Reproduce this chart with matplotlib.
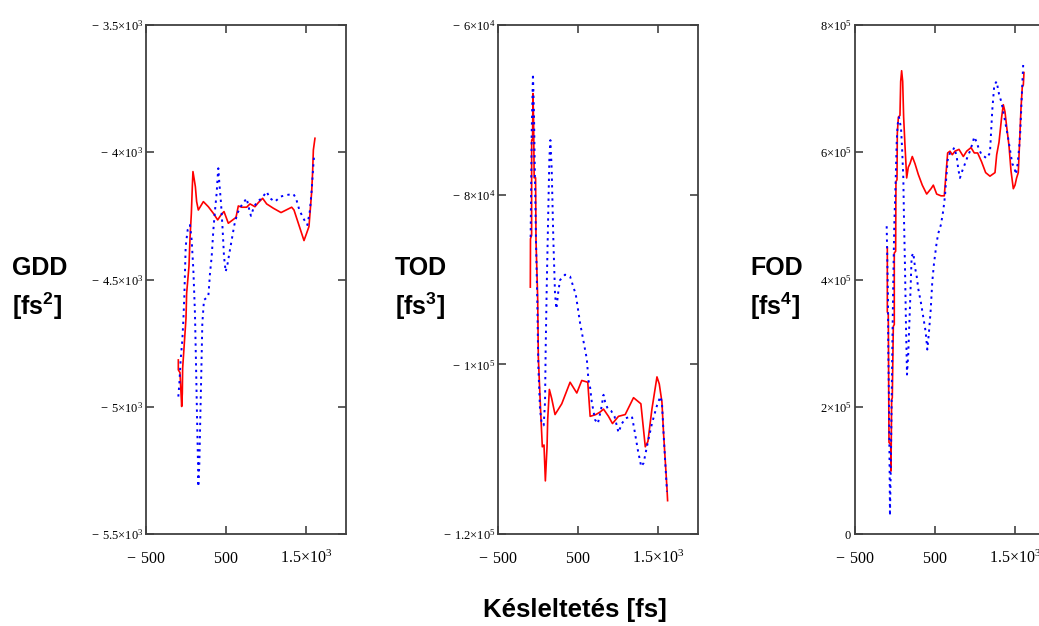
import matplotlib
matplotlib.use('Agg')
import matplotlib.pyplot as plt
from matplotlib.ticker import FixedLocator, FixedFormatter

plt.rcParams['mathtext.fontset'] = 'custom'
plt.rcParams['mathtext.rm'] = 'Liberation Serif'
plt.rcParams['mathtext.bf'] = 'Liberation Sans:bold'

# ---- data (delay in fs) ----
gdd_red_t = [-96, -96, -75, -62, -54, -46, -42, -21, 0, 8, 37, 50, 67, 79, 87, 104, 117, 133,
             154, 217, 279, 342, 396, 438, 475, 529, 625, 654, 696, 758, 800, 862, 904, 958,
             1008, 1092, 1188, 1321, 1350, 1404, 1475, 1508, 1537, 1550, 1571, 1583, 1592, 1612]
gdd_red = [-4816, -4855, -4866, -4947, -4999, -4947, -4849, -4751, -4652, -4554, -4449, -4338,
           -4240, -4135, -4076, -4109, -4135, -4194, -4227, -4194, -4214, -4240, -4266, -4246,
           -4233, -4279, -4256, -4211, -4216, -4216, -4203, -4214, -4198, -4181, -4203, -4220,
           -4237, -4216, -4227, -4279, -4347, -4318, -4292, -4240, -4155, -4076, -3991, -3945]

gdd_blue_t = [-96, -83, -67, -46, -33, -21, -12, -4, 8, 21, 50, 71, 92, 112, 125, 137, 150, 154,
              167, 179, 192, 204, 225, 279, 300, 321, 342, 363, 383, 396, 404, 417, 438, 458,
              475, 496, 521, 542, 571, 604, 642, 683, 729, 758, 792, 812, 850, 892, 946, 1008,
              1050, 1112, 1183, 1258, 1342, 1375, 1417, 1467, 1517, 1550, 1571, 1592, 1600]
gdd_blue = [-4960, -4908, -4816, -4738, -4659, -4567, -4463, -4371, -4338, -4305, -4286, -4345,
            -4463, -4633, -4829, -5026, -5222, -5314, -5222, -5039, -4855, -4672, -4580, -4567,
            -4476, -4410, -4305, -4227, -4161, -4096, -4063, -4122, -4201, -4305, -4410, -4469,
            -4436, -4397, -4345, -4286, -4240, -4214, -4194, -4181, -4227, -4250, -4214, -4194,
            -4181, -4155, -4181, -4194, -4174, -4168, -4164, -4181, -4227, -4260, -4286, -4227,
            -4148, -4050, -4017]

tod_red_t = [-96, -94, -80, -79, -68, -63, -55, -48, -30, -25, -4, 4, 25, 38, 54, 75, 92, 113,
             121, 142, 171, 213, 297, 401, 485, 547, 622, 652, 723, 777, 819, 881, 931, 1006,
             1090, 1194, 1286, 1341, 1374, 1424, 1487, 1516, 1549, 1570, 1591, 1612, 1620]
tod_red = [-90900, -85200, -84800, -73570, -73570, -68080, -71460, -78010, -78010, -85410,
           -92180, -99150, -103800, -106550, -109720, -109510, -113740, -109720, -106550,
           -102960, -104020, -105920, -104650, -102110, -103380, -101900, -102110, -106130,
           -105920, -105620, -105280, -106130, -106980, -106130, -105920, -103930, -104650,
           -109720, -109090, -105280, -101480, -102320, -104440, -108240, -111410, -114590,
           -116070]

tod_blue_t = [-92, -79, -63, -50, -38, -25, -8, 4, 25, 46, 71, 88, 96, 109, 121, 142, 155, 171,
              192, 213, 230, 255, 276, 338, 401, 443, 472, 526, 568, 610, 631, 652, 672, 714,
              748, 789, 819, 839, 873, 915, 956, 1006, 1048, 1098, 1174, 1207, 1249, 1290, 1320,
              1361, 1424, 1487, 1529, 1549, 1570, 1591, 1612]
tod_blue = [-84990, -72730, -65750, -70610, -78220, -85410, -93020, -100210, -105280, -106980,
            -107190, -104440, -98100, -90910, -85410, -75690, -73570, -76960, -85410, -91750,
            -93450, -91330, -90060, -89430, -89640, -90910, -91750, -95140, -97250, -99360,
            -101900, -102750, -104440, -106550, -106980, -105280, -103590, -104440, -105280,
            -105500, -106130, -108030, -106980, -106340, -106130, -107820, -110150, -112050,
            -111630, -109720, -106980, -104860, -103800, -104440, -108240, -111630, -115010]

fod_red_t = [-96, -96, -84, -75, -54, -50, -42, -34, -21, -9, -9, 8, 12, 25, 29, 42, 62, 71, 83,
             96, 108, 125, 146, 166, 187, 216, 250, 291, 341, 396, 450, 479, 521, 575, 616, 637,
             658, 687, 716, 750, 800, 854, 896, 950, 991, 1033, 1083, 1133, 1187, 1250, 1271,
             1300, 1333, 1354, 1375, 1395, 1425, 1450, 1479, 1500, 1520, 1541, 1562, 1575, 1591,
             1604, 1612]
fod_red = [450000, 348900, 346100, 143800, 141000, 98900, 211200, 214000, 326400, 329200,
           441600, 444400, 553900, 556700, 629800, 655100, 657900, 711200, 728100, 711200,
           655100, 610100, 559600, 576400, 582000, 593300, 582000, 565200, 548300, 534300,
           542700, 548300, 534300, 531500, 531500, 565200, 598900, 601700, 596100, 601700,
           604500, 593300, 601700, 607300, 598900, 598900, 584800, 568000, 562400, 568000,
           596100, 615700, 655100, 674700, 663500, 641000, 610100, 570800, 542700, 548300,
           559600, 568000, 629800, 669100, 702800, 705600, 725300]

fod_blue_t = [-104, -96, -88, -84, -75, -67, -63, -54, -42, -34, -21, -9, 8, 21, 33, 50, 75, 87,
              104, 112, 125, 137, 150, 166, 187, 208, 229, 250, 271, 291, 325, 354, 383, 404,
              425, 446, 466, 487, 521, 541, 575, 604, 625, 641, 658, 687, 716, 741, 771, 791,
              812, 841, 875, 908, 937, 966, 991, 1021, 1050, 1083, 1116, 1145, 1187, 1216, 1241,
              1270, 1300, 1333, 1358, 1383, 1408, 1437, 1466, 1491, 1512, 1533, 1554, 1566,
              1583, 1604]
fod_blue = [483700, 430300, 374200, 289900, 205600, 93300, 28700, 93300, 205600, 289900,
            402200, 486500, 553900, 615700, 643800, 655100, 638200, 610100, 559600, 497800,
            419100, 329200, 250600, 284300, 357300, 436000, 441600, 419100, 405100, 385400,
            362900, 340500, 318000, 289900, 318000, 351700, 396600, 424700, 458400, 472500,
            486500, 509000, 531500, 559600, 587600, 598900, 601700, 607300, 593300, 573600,
            559600, 570800, 582000, 593300, 601700, 612900, 624200, 615700, 604500, 596100,
            593300, 590500, 598900, 666300, 705600, 711200, 691600, 677500, 660700, 643800,
            627000, 604500, 582000, 576400, 565200, 582000, 610100, 632600, 683200, 742100]

x_ticks = [-500, 500, 1500]
x_labels = [r'$\mathrm{-\ 500}$', r'$\mathrm{500}$', r'$\mathrm{1.5{\times}10^{3}}$']

gdd_ticks = [-5500, -5000, -4500, -4000, -3500]
gdd_labels = [r'$\mathrm{-\ 5.5{\times}10^{3}}$', r'$\mathrm{-\ 5{\times}10^{3}}$',
              r'$\mathrm{-\ 4.5{\times}10^{3}}$', r'$\mathrm{-\ 4{\times}10^{3}}$',
              r'$\mathrm{-\ 3.5{\times}10^{3}}$']
tod_ticks = [-120000, -100000, -80000, -60000]
tod_labels = [r'$\mathrm{-\ 1.2{\times}10^{5}}$', r'$\mathrm{-\ 1{\times}10^{5}}$',
              r'$\mathrm{-\ 8{\times}10^{4}}$', r'$\mathrm{-\ 6{\times}10^{4}}$']
fod_ticks = [0, 200000, 400000, 600000, 800000]
fod_labels = [r'$\mathrm{0}$', r'$\mathrm{2{\times}10^{5}}$', r'$\mathrm{4{\times}10^{5}}$',
              r'$\mathrm{6{\times}10^{5}}$', r'$\mathrm{8{\times}10^{5}}$']

names = ['GDD', 'TOD', 'FOD']
units = [r'[fs$^{\mathbf{2}}$]', r'[fs$^{\mathbf{3}}$]', r'[fs$^{\mathbf{4}}$]']

# ---- figure ----
W, H = 1039, 626
fig = plt.figure(figsize=(W / 100, H / 100), dpi=100)

sans = ['Liberation Sans', 'DejaVu Sans']

panels = [
    (146, gdd_red_t, gdd_red, gdd_blue_t, gdd_blue, gdd_ticks, gdd_labels),
    (498, tod_red_t, tod_red, tod_blue_t, tod_blue, tod_ticks, tod_labels),
    (855, fod_red_t, fod_red, fod_blue_t, fod_blue, fod_ticks, fod_labels),
]
title_x = [12, 395, 750]

for i, (left, rt, ry, bt, by, yt, yl) in enumerate(panels):
    ax = fig.add_axes([left / W, (H - 534) / H, 200 / W, 509 / H])
    ax.plot(rt, ry, color='#ff0000', lw=1.2)
    ax.plot(bt, by, color='#0000ff', lw=1.4, linestyle=(0, (1.2, 2.2)))
    ax.set_xlim(-500, 2000)
    ax.set_ylim(yt[0], yt[-1])
    ax.xaxis.set_major_locator(FixedLocator(x_ticks))
    ax.xaxis.set_major_formatter(FixedFormatter(x_labels))
    ax.yaxis.set_major_locator(FixedLocator(yt))
    ax.yaxis.set_major_formatter(FixedFormatter(yl))
    ax.tick_params(direction='in', top=True, right=True, length=6, width=1.1,
                   color='#333333')
    ax.tick_params(axis='x', pad=21, labelsize=11.5)
    ax.tick_params(axis='y', pad=2, labelsize=9)
    for lab in ax.get_xticklabels():
        lab.set_verticalalignment('baseline')
    for sp in ax.spines.values():
        sp.set_color('#404040')
        sp.set_linewidth(1.3)

    fig.text(title_x[i] / W, 1 - 268 / H, names[i], family=sans, fontweight='bold',
             fontsize=18, ha='left', va='center')
    fig.text(title_x[i] / W, 1 - 306 / H, units[i], family=sans, fontweight='bold',
             fontsize=18, ha='left', va='center')

fig.text(575 / W, 1 - 610 / H, 'Késleltetés [fs]', family=sans, fontweight='bold',
         fontsize=18.5, ha='center', va='center')

fig.savefig('out.png', dpi=100)
